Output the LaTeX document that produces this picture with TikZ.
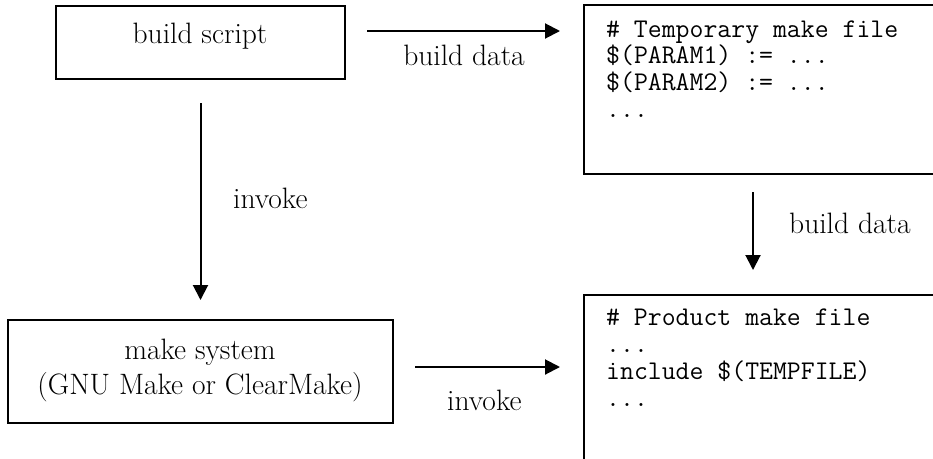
\documentclass[tikz,border=0pt]{standalone}
\usepackage{fontspec}
\usetikzlibrary{arrows.meta}
\begin{document}
\begin{tikzpicture}[x=1pt,y=-1pt,
  box/.style={draw,line width=2pt,inner sep=0pt},
  lbl/.style={font=\fontsize{29.5}{34}\selectfont,inner sep=0pt},
  code/.style={font=\fontsize{27}{27}\selectfont\ttfamily,inner sep=0pt,anchor=base west},
  arr/.style={line width=2pt,-{Triangle[length=15pt,width=15pt]}}]
\useasboundingbox (0,0) rectangle (933,458);
\clip (0,0) rectangle (933,458);
% boxes
\node[box,minimum width=289pt,minimum height=73pt] (bs) at (200.5,42.5) {};
\node[box,minimum width=385pt,minimum height=103pt] (ms) at (200.5,371.5) {};
\node[box,minimum width=500pt,minimum height=169pt] (tmp) at (834,89.5) {};
\node[box,minimum width=500pt,minimum height=300pt] (prod) at (834,445) {};
% box texts
\node[lbl,anchor=base] (bst) at (200,43) {build script};
\node[lbl,anchor=base] (mst1) at (200,359) {make system};
\node[lbl,anchor=base] (mst2) at (200,394) {(GNU Make or ClearMake)};
\node[code] (t1) at (606,37) {\# Temporary make file};
\node[code] (t2) at (606,63) {\$(PARAM1) := ...};
\node[code] (t3) at (606,90) {\$(PARAM2) := ...};
\node[code] (t4) at (606,117) {...};
\node[code] (p1) at (606,325) {\# Product make file};
\node[code] (p2) at (606,352) {...};
\node[code] (p3) at (606,379) {include \$(TEMPFILE)};
\node[code] (p4) at (606,406) {...};
% connectors
\coordinate (a1s) at (367,31);
\coordinate (a1e) at (560,31);
\coordinate (a3s) at (753,192);
\coordinate (a3e) at (753,270);
\coordinate (a4s) at (415,367);
\coordinate (a4e) at (560,367);
\draw[arr] (a1s) -- (a1e);
\draw[arr,shorten <=23pt,shorten >=19pt] (bs.south) -- (ms.north);
\draw[arr] (a3s) -- (a3e);
\draw[arr] (a4s) -- (a4e);
% connector labels
\node[lbl,anchor=base] (l1) at (464,65) {build data};
\node[lbl,anchor=base west] (l2) at (233,208) {invoke};
\node[lbl,anchor=base west] (l3) at (789,233) {build data};
\node[lbl,anchor=base west] (l4) at (447,410) {invoke};
\end{tikzpicture}
\end{document}
